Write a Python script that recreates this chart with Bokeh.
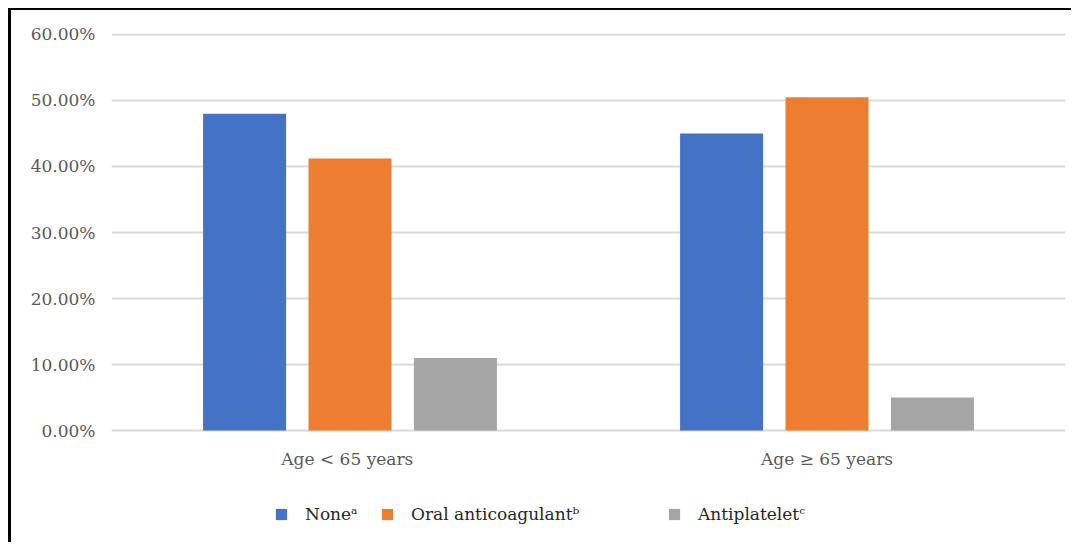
from bokeh.plotting import figure
from bokeh.models import ColumnDataSource, NumeralTickFormatter, FixedTicker, Legend, LegendItem, Range1d
from bokeh.core.properties import value
from bokeh.transform import dodge
from bokeh.embed import file_html
from bokeh.resources import INLINE

categories = ["Age  < 65 years", "Age ≥ 65 years"]
series_names = ["Noneᵃ", "Oral anticoagulantᵇ", "Antiplateletᶜ"]
none_vals = [0.480, 0.450]
oral_vals = [0.412, 0.505]
anti_vals = [0.110, 0.050]
y_ticks = [0.0, 0.1, 0.2, 0.3, 0.4, 0.5, 0.6]

colors = ["#4472C4", "#ED7D31", "#A5A5A5"]
FONT = "DejaVu Serif"

src = ColumnDataSource(dict(cat=categories, none=none_vals, oral=oral_vals, anti=anti_vals,
                            zero=[0.0] * len(categories)))

p = figure(x_range=categories, y_range=Range1d(-0.1727, 0.6015), width=1063, height=534,
           output_backend="svg", toolbar_location=None, x_axis_location=None,
           min_border_left=100, min_border_right=9, min_border_top=23, min_border_bottom=0)
p.margin = (8, 0, 0, 8)
p.styles = {"border-top": "2px solid black", "border-left": "3px solid black"}
p.x_range.range_padding = 0
p.outline_line_color = None

offs = [-0.221, 0.0, 0.221]
fields = ["none", "oral", "anti"]
renderers = []
for f, o, c in zip(fields, offs, colors):
    r = p.vbar(x=dodge("cat", o, range=p.x_range), top=f, bottom=0, width=0.174, source=src,
               fill_color=c, line_color=None)
    renderers.append(r)

# category labels under the zero line
p.text(x="cat", y="zero", text="cat", source=src, y_offset=28,
       text_font=value(FONT), text_font_size="17px", text_color="#595959",
       text_align="center", text_baseline="middle")

p.yaxis.ticker = FixedTicker(ticks=y_ticks)
p.yaxis.formatter = NumeralTickFormatter(format="0.00%")
p.yaxis.axis_line_color = None
p.yaxis.major_tick_line_color = None
p.yaxis.minor_tick_line_color = None
p.yaxis.major_label_text_font = FONT
p.yaxis.major_label_text_font_size = "17px"
p.yaxis.major_label_text_color = "#595959"
p.yaxis.major_label_standoff = 10

p.xgrid.grid_line_color = None
p.ygrid.grid_line_color = "#d9d9d9"
p.ygrid.grid_line_width = 2

legend_x = [163, 269, 556]
for name, r, lx in zip(series_names, renderers, legend_x):
    lg = Legend(items=[LegendItem(label=name, renderers=[r])], location=(lx, 20),
                orientation="horizontal", padding=0, margin=0, border_line_color=None,
                background_fill_alpha=0, glyph_width=14, glyph_height=14, label_height=14,
                label_standoff=17, label_text_font=FONT, label_text_font_size="17px",
                label_text_color="#262626", label_text_baseline="middle")
    p.add_layout(lg, "center")

open("out.html", "w").write(file_html(p, INLINE))
